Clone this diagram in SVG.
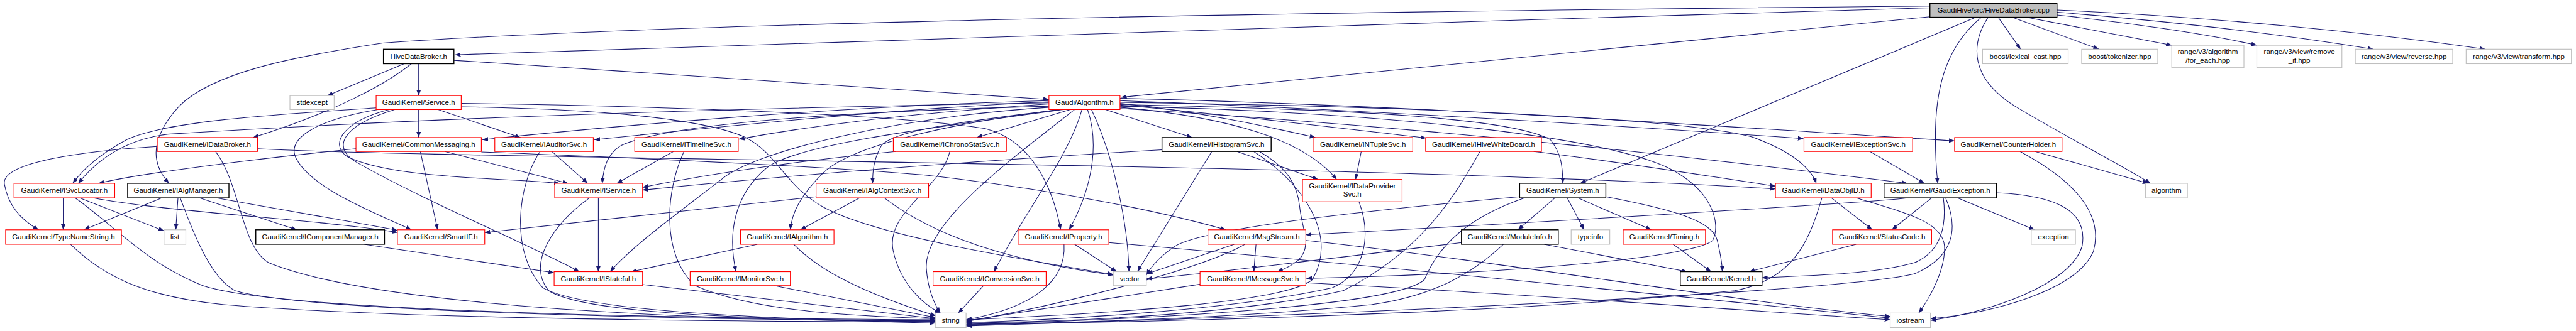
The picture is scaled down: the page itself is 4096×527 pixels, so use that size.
<svg xmlns="http://www.w3.org/2000/svg" width="4096" height="527" viewBox="0 0 4096 527">
<defs>
<marker id="a" markerWidth="11" markerHeight="8" refX="10" refY="4" orient="auto" markerUnits="userSpaceOnUse"><path d="M0,0 L10,4 L0,8 z" fill="#191970"/></marker>
<style>
.e path{fill:none;stroke:#191970;stroke-width:1.2;marker-end:url(#a)}
.r rect{fill:#fff;stroke:#ff0000;stroke-width:1.3}
.b rect{fill:#fff;stroke:#000;stroke-width:1.6}
.g rect{fill:#fff;stroke:#bfbfbf;stroke-width:1.3}
.c rect{fill:#bfbfbf;stroke:#000;stroke-width:1.6}
text{font-family:"Liberation Sans",Arial,sans-serif;font-size:13px;fill:#000;text-anchor:middle}
</style>
</defs>
<rect width="4096" height="527" fill="#fff"/>
<g transform="scale(0.89)">
<g id="edges" class="e">
<path d="M3448,14 C2500,40 1300,85 813,98"/>
<path d="M3448,30 L2003,174"/>
<path d="M3448,11 C2400,20 1200,40 684,77 C520,102 380,130 320,190 C265,250 272,295 302,328"/>
<path d="M3530,31 L2823,328"/>
<path d="M3540,31 C3480,80 3460,150 3458,230 C3457,280 3460,310 3462,328"/>
<path d="M3570,31 L3610,88"/>
<path d="M3595,31 L3750,88"/>
<path d="M3620,31 L3880,81"/>
<path d="M3675,27 C3800,40 3950,62 4032,81"/>
<path d="M3675,22 C3900,40 4100,65 4240,88"/>
<path d="M3675,18 C3950,30 4250,60 4440,88"/>
<path d="M3552,31 C3520,80 3520,140 3600,190 C3700,250 3790,295 3842,328"/>
<path d="M722,114 L585,171"/>
<path d="M748,114 L748,171"/>
<path d="M735,114 C690,150 600,200 452,246"/>
<path d="M811,108 C1200,132 1600,160 1874,178"/>
<path d="M748,196 L748,246"/>
<path d="M783,196 L930,246"/>
<path d="M672,193 C500,205 300,215 226,250 C180,275 150,300 130,328"/>
<path d="M675,196 C560,215 510,250 530,285 C560,340 680,385 735,411"/>
<path d="M695,196 C620,215 585,255 620,280 C700,320 900,318 1000,328"/>
<path d="M705,196 C610,225 590,265 640,292 C760,360 950,440 1035,486"/>
<path d="M824,185 C1200,190 1600,205 1760,230 C1840,250 1880,330 1895,411"/>
<path d="M824,191 C1050,195 1250,210 1330,245 C1390,275 1400,330 1470,370 C1560,420 1800,460 1989,491"/>
<path d="M281,262 C150,270 0,290 8,330 C15,370 40,395 69,411"/>
<path d="M460,266 C800,285 2400,290 3172,338"/>
<path d="M385,271 C430,330 430,440 480,470 C700,560 1400,575 1671,575"/>
<path d="M113,354 L113,411"/>
<path d="M142,354 L293,413"/>
<path d="M166,354 C300,380 600,395 710,416"/>
<path d="M134,354 C200,400 260,470 360,510 C500,560 1300,570 1671,572"/>
<path d="M289,354 L150,411"/>
<path d="M318,354 L314,411"/>
<path d="M322,354 C350,430 380,500 420,520 C550,560 1300,572 1671,574"/>
<path d="M356,354 L530,411"/>
<path d="M386,354 C500,375 650,400 710,412"/>
<path d="M126,437 C180,490 250,530 400,545 C700,570 1300,575 1671,576"/>
<path d="M651,437 L990,488"/>
<path d="M636,266 C450,285 250,310 176,328"/>
<path d="M751,271 L782,411"/>
<path d="M795,271 L1015,328"/>
<path d="M860,272 C1200,285 1500,300 1650,313 C1900,340 2100,385 2190,411"/>
<path d="M986,271 L1050,328"/>
<path d="M965,271 C925,330 910,450 970,515 C1050,560 1400,570 1671,578"/>
<path d="M1203,271 L1102,328"/>
<path d="M1222,271 C1190,340 1180,450 1240,510 C1350,560 1550,566 1671,570"/>
<path d="M1600,271 C1400,290 1250,315 1148,335"/>
<path d="M1697,271 C1680,340 1580,380 1596,450 C1610,510 1650,545 1680,560"/>
<path d="M2076,268 C1700,290 1400,315 1148,340"/>
<path d="M2165,271 L2032,486"/>
<path d="M2210,271 L2355,321"/>
<path d="M2240,271 C2330,330 2390,420 2345,500 C2300,540 2000,560 1726,572"/>
<path d="M2432,271 L2422,321"/>
<path d="M2644,271 C2600,350 2540,450 2400,520 C2200,565 1900,575 1726,578"/>
<path d="M2740,271 C2900,290 3050,315 3172,333"/>
<path d="M1874,180 C1500,190 1100,225 862,250"/>
<path d="M1874,182 C1600,195 1300,225 1062,250"/>
<path d="M1874,184 C1200,195 700,215 300,240 C220,250 170,290 140,328"/>
<path d="M1874,186 C1600,205 1450,225 1320,249"/>
<path d="M1912,196 L1745,246"/>
<path d="M1975,196 L2130,246"/>
<path d="M2001,185 C2150,200 2280,230 2350,246"/>
<path d="M2001,188 C2200,205 2400,230 2548,247"/>
<path d="M2001,180 C2400,195 2900,225 3222,248"/>
<path d="M2001,176 C2600,190 3200,235 3492,252"/>
<path d="M1874,190 C1500,200 1200,220 1110,260 C1085,275 1078,300 1076,328"/>
<path d="M1890,196 C1750,215 1600,230 1575,260 C1560,285 1559,310 1559,328"/>
<path d="M1895,196 C1700,220 1520,260 1470,310 C1430,350 1415,380 1412,411"/>
<path d="M1900,196 C1650,230 1420,260 1370,300 C1310,350 1300,420 1315,486"/>
<path d="M1933,196 C1910,280 1830,380 1776,486"/>
<path d="M1943,196 C1965,260 1950,340 1910,411"/>
<path d="M1950,196 C1990,280 2015,400 2017,486"/>
<path d="M1920,196 C1800,290 1650,400 1655,480 C1658,520 1670,545 1680,560"/>
<path d="M1874,192 C1600,210 1350,270 1290,320 C1200,390 1130,440 1090,486"/>
<path d="M2001,192 C2200,210 2330,250 2388,321"/>
<path d="M2001,187 C2400,195 2700,210 2770,250 C2790,275 2792,300 2792,328"/>
<path d="M2001,183 C2500,190 3000,210 3130,245 C3200,270 3235,300 3245,328"/>
<path d="M2001,194 C2600,230 3100,290 3408,328"/>
<path d="M2001,190 C2450,200 2850,240 2980,300 C3060,340 3075,400 3060,430 C3030,460 2700,490 2334,498"/>
<path d="M1536,354 L1430,411"/>
<path d="M1458,352 C1300,370 1000,400 866,416"/>
<path d="M1580,354 C1640,400 1750,460 1989,492"/>
<path d="M1069,354 L1069,486"/>
<path d="M1053,354 C990,400 940,470 980,520 C1050,565 1400,572 1671,574"/>
<path d="M1353,437 L1128,486"/>
<path d="M1418,437 C1460,480 1530,520 1672,565"/>
<path d="M1383,511 L1671,568"/>
<path d="M1148,509 L1671,570"/>
<path d="M1757,511 L1712,560"/>
<path d="M1920,437 L1995,486"/>
<path d="M1901,437 C1905,500 1850,550 1726,572"/>
<path d="M1981,434 C2400,470 3000,530 3377,569"/>
<path d="M2244,437 L2240,486"/>
<path d="M2205,437 L2049,490"/>
<path d="M2224,437 C2150,480 1900,545 1726,575"/>
<path d="M2333,430 C2700,470 3100,540 3377,566"/>
<path d="M2147,508 L1726,574"/>
<path d="M2333,506 C2800,530 3100,555 3377,572"/>
<path d="M2428,361 C2450,420 2440,490 2380,515 C2200,555 1900,572 1726,577"/>
<path d="M2778,354 L2712,411"/>
<path d="M2800,354 L2830,411"/>
<path d="M2819,354 L2950,411"/>
<path d="M2869,352 C2990,375 3060,395 3068,430 C3075,460 3077,475 3077,486"/>
<path d="M2724,354 C2620,390 2570,440 2545,500 C2500,545 2100,570 1726,580"/>
<path d="M2715,352 C2400,380 2150,410 2100,440 C2070,460 2055,480 2048,492"/>
<path d="M3272,354 L3345,411"/>
<path d="M3255,354 C3230,440 3200,500 3100,520 C2700,560 2100,575 1726,581"/>
<path d="M3316,354 C3400,380 3470,395 3474,440 C3476,480 3450,530 3428,560"/>
<path d="M3451,354 L3380,411"/>
<path d="M3472,354 C3478,400 3470,450 3420,470 C3350,490 3250,492 3148,497"/>
<path d="M3497,354 L3635,411"/>
<path d="M3567,345 C3680,350 3730,380 3720,440 C3700,510 3550,560 3449,573"/>
<path d="M3476,354 C3500,410 3490,460 3420,490 C3300,520 2500,560 1726,583"/>
<path d="M3410,354 C3350,362 2800,395 2333,420"/>
<path d="M2759,437 L3014,486"/>
<path d="M2686,437 C2630,490 2560,530 2450,545 C2200,570 1900,578 1726,580"/>
<path d="M2611,434 C2400,460 2150,490 2048,499"/>
<path d="M2989,437 L3057,486"/>
<path d="M3316,437 L3125,486"/>
<path d="M3341,271 L3438,328"/>
<path d="M3636,271 L3838,328"/>
<path d="M3609,271 C3700,320 3760,380 3740,450 C3710,520 3560,560 3449,570"/>
<path d="M2250,271 C2300,300 2318,330 2322,370 C2326,410 2345,440 2320,465 C2305,478 2290,483 2282,486"/>
</g>
<g id="n_cpp" class="c"><rect x="3448" y="6" width="227" height="25"/><text x="3561.5" y="23">GaudiHive/src/HiveDataBroker.cpp</text></g>
<g id="n_hdbh" class="b"><rect x="685" y="88" width="126" height="26"/><text x="748" y="105.5">HiveDataBroker.h</text></g>
<g id="n_lexical" class="g"><rect x="3542" y="88" width="153" height="26"/><text x="3618.5" y="105.5">boost/lexical_cast.hpp</text></g>
<g id="n_tokenizer" class="g"><rect x="3719" y="88" width="136" height="26"/><text x="3787" y="105.5">boost/tokenizer.hpp</text></g>
<g id="n_foreach" class="g"><rect x="3880" y="81" width="129" height="40"/><text x="3944.5" y="97">range/v3/algorithm</text><text x="3944.5" y="112">/for_each.hpp</text></g>
<g id="n_removeif" class="g"><rect x="4032" y="81" width="152" height="40"/><text x="4108" y="97">range/v3/view/remove</text><text x="4108" y="112">_if.hpp</text></g>
<g id="n_reverse" class="g"><rect x="4208" y="88" width="174" height="26"/><text x="4295" y="105.5">range/v3/view/reverse.hpp</text></g>
<g id="n_transform" class="g"><rect x="4406" y="88" width="188" height="26"/><text x="4500" y="105.5">range/v3/view/transform.hpp</text></g>
<g id="n_stdexcept" class="g"><rect x="518" y="171" width="79" height="25"/><text x="557.5" y="188">stdexcept</text></g>
<g id="n_service" class="r"><rect x="672" y="171" width="152" height="25"/><text x="748" y="188">GaudiKernel/Service.h</text></g>
<g id="n_galgorithm" class="r"><rect x="1874" y="171" width="127" height="25"/><text x="1937.5" y="188">Gaudi/Algorithm.h</text></g>
<g id="n_idatabroker" class="r"><rect x="281" y="246" width="179" height="25"/><text x="370.5" y="263">GaudiKernel/IDataBroker.h</text></g>
<g id="n_commonmessaging" class="r"><rect x="636" y="246" width="224" height="25"/><text x="748" y="263">GaudiKernel/CommonMessaging.h</text></g>
<g id="n_iauditorsvc" class="r"><rect x="884" y="246" width="176" height="25"/><text x="972" y="263">GaudiKernel/IAuditorSvc.h</text></g>
<g id="n_itimelinesvc" class="r"><rect x="1134" y="246" width="185" height="25"/><text x="1226.5" y="263">GaudiKernel/ITimelineSvc.h</text></g>
<g id="n_ichronostatsvc" class="r"><rect x="1596" y="246" width="202" height="25"/><text x="1697" y="263">GaudiKernel/IChronoStatSvc.h</text></g>
<g id="n_ihistogramsvc" class="b"><rect x="2076" y="246" width="195" height="25"/><text x="2173.5" y="263">GaudiKernel/IHistogramSvc.h</text></g>
<g id="n_intuplesvc" class="r"><rect x="2346" y="246" width="178" height="25"/><text x="2435" y="263">GaudiKernel/INTupleSvc.h</text></g>
<g id="n_ihivewhiteboard" class="r"><rect x="2547" y="246" width="207" height="25"/><text x="2650.5" y="263">GaudiKernel/IHiveWhiteBoard.h</text></g>
<g id="n_iexceptionsvc" class="r"><rect x="3223" y="246" width="194" height="25"/><text x="3320" y="263">GaudiKernel/IExceptionSvc.h</text></g>
<g id="n_counterholder" class="r"><rect x="3492" y="246" width="192" height="25"/><text x="3588" y="263">GaudiKernel/CounterHolder.h</text></g>
<g id="n_isvclocator" class="r"><rect x="25" y="328" width="180" height="26"/><text x="115" y="345.5">GaudiKernel/ISvcLocator.h</text></g>
<g id="n_ialgmanager" class="b"><rect x="228" y="328" width="181" height="26"/><text x="318.5" y="345.5">GaudiKernel/IAlgManager.h</text></g>
<g id="n_iservice" class="r"><rect x="991" y="328" width="157" height="26"/><text x="1069.5" y="345.5">GaudiKernel/IService.h</text></g>
<g id="n_ialgcontextsvc" class="r"><rect x="1458" y="328" width="201" height="26"/><text x="1558.5" y="345.5">GaudiKernel/IAlgContextSvc.h</text></g>
<g id="n_idataprovidersvc" class="r"><rect x="2327" y="321" width="178" height="40"/><text x="2416" y="337">GaudiKernel/IDataProvider</text><text x="2416" y="352">Svc.h</text></g>
<g id="n_system" class="b"><rect x="2715" y="328" width="154" height="26"/><text x="2792" y="345.5">GaudiKernel/System.h</text></g>
<g id="n_dataobjid" class="r"><rect x="3172" y="328" width="171" height="26"/><text x="3257.5" y="345.5">GaudiKernel/DataObjID.h</text></g>
<g id="n_gaudiexception" class="b"><rect x="3366" y="328" width="201" height="26"/><text x="3466.5" y="345.5">GaudiKernel/GaudiException.h</text></g>
<g id="n_algorithm" class="g"><rect x="3833" y="328" width="75" height="26"/><text x="3870.5" y="345.5">algorithm</text></g>
<g id="n_typenamestring" class="r"><rect x="10" y="411" width="207" height="26"/><text x="113.5" y="428.5">GaudiKernel/TypeNameString.h</text></g>
<g id="n_list" class="g"><rect x="293" y="411" width="39" height="26"/><text x="312.5" y="428.5">list</text></g>
<g id="n_icomponentmanager" class="b"><rect x="457" y="411" width="230" height="26"/><text x="572" y="428.5">GaudiKernel/IComponentManager.h</text></g>
<g id="n_smartif" class="r"><rect x="710" y="411" width="156" height="26"/><text x="788" y="428.5">GaudiKernel/SmartIF.h</text></g>
<g id="n_ialgorithm" class="r"><rect x="1323" y="411" width="167" height="26"/><text x="1406.5" y="428.5">GaudiKernel/IAlgorithm.h</text></g>
<g id="n_iproperty" class="r"><rect x="1819" y="411" width="162" height="26"/><text x="1900" y="428.5">GaudiKernel/IProperty.h</text></g>
<g id="n_msgstream" class="r"><rect x="2158" y="411" width="175" height="26"/><text x="2245.5" y="428.5">GaudiKernel/MsgStream.h</text></g>
<g id="n_moduleinfo" class="b"><rect x="2611" y="411" width="173" height="26"/><text x="2697.5" y="428.5">GaudiKernel/ModuleInfo.h</text></g>
<g id="n_typeinfo" class="g"><rect x="2807" y="411" width="69" height="26"/><text x="2841.5" y="428.5">typeinfo</text></g>
<g id="n_timing" class="r"><rect x="2900" y="411" width="147" height="26"/><text x="2973.5" y="428.5">GaudiKernel/Timing.h</text></g>
<g id="n_statuscode" class="r"><rect x="3274" y="411" width="177" height="26"/><text x="3362.5" y="428.5">GaudiKernel/StatusCode.h</text></g>
<g id="n_exception" class="g"><rect x="3629" y="411" width="79" height="26"/><text x="3668.5" y="428.5">exception</text></g>
<g id="n_istateful" class="r"><rect x="990" y="486" width="158" height="25"/><text x="1069" y="503">GaudiKernel/IStateful.h</text></g>
<g id="n_imonitorsvc" class="r"><rect x="1233" y="486" width="179" height="25"/><text x="1322.5" y="503">GaudiKernel/IMonitorSvc.h</text></g>
<g id="n_iconversionsvc" class="r"><rect x="1667" y="486" width="202" height="25"/><text x="1768" y="503">GaudiKernel/IConversionSvc.h</text></g>
<g id="n_vector" class="g"><rect x="1989" y="486" width="59" height="25"/><text x="2018.5" y="503">vector</text></g>
<g id="n_imessagesvc" class="r"><rect x="2144" y="486" width="189" height="25"/><text x="2238.5" y="503">GaudiKernel/IMessageSvc.h</text></g>
<g id="n_kernel" class="b"><rect x="3002" y="486" width="146" height="25"/><text x="3075" y="503">GaudiKernel/Kernel.h</text></g>
<g id="n_string" class="g"><rect x="1671" y="560" width="55" height="26"/><text x="1698.5" y="577.5">string</text></g>
<g id="n_iostream" class="g"><rect x="3377" y="560" width="72" height="26"/><text x="3413" y="577.5">iostream</text></g>
</g>
</svg>
